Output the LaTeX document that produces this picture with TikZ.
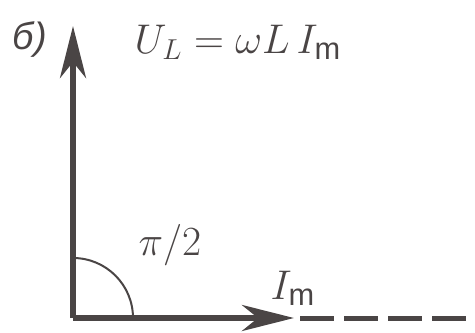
\documentclass[tikz,border=0pt]{standalone}
\usepackage{fontspec}
\setmainfont{Liberation Sans}
\usepackage{tikz}
\usetikzlibrary{arrows.meta,positioning}
\definecolor{ink}{HTML}{4A4545}
\tikzset{
  >={Stealth[length=26pt,width=13pt,inset=8pt]},
  every picture/.style={draw=ink,text=ink},
  phasor/.style={->,draw=ink,line width=3pt},
  ext/.style={draw=ink,line width=2.5pt,dash pattern=on 17pt off 5pt},
  ang/.style={draw=ink,line width=1pt},
  lab/.style={font=\fontsize{22}{26}\selectfont,inner sep=0pt},
}

\begin{document}
\begin{tikzpicture}[x=0.5pt,y=0.5pt]
  \useasboundingbox (0,0) rectangle (475,332);
  \coordinate (o) at (73,14);
  \coordinate (u) at (73,306);
  \coordinate (i) at (294,14);
  \coordinate (d) at (300,14);
  \coordinate (e) at (475,14);
  \draw[ang] (o) ++(60,0) arc (0:90:60);
  \draw[phasor] (o) -- (u);
  \draw[phasor] (o) -- (i);
  \draw[ext] (d) -- (e);
  \node[lab,font=\fontsize{19}{22}\selectfont] (tag) at (30,292) {\itshape б)};
  \node[lab] (ul) at (238,290) {$U_L=\omega L\,I_{\mathrm m}$};
  \node[lab] (pi) at (170,87) {$\pi/2$};
  \node[lab] (im) at (293,44) {$I_{\mathrm m}$};
\end{tikzpicture}
\end{document}
